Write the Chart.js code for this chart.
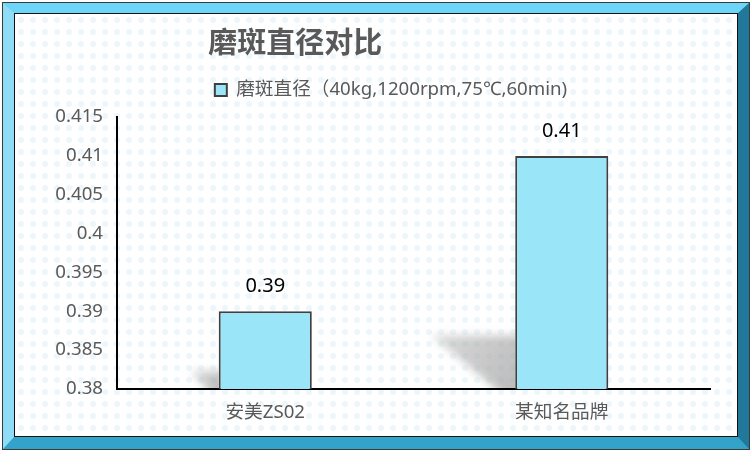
<!DOCTYPE html>
<html>
<head>
<meta charset="utf-8">
<script src="https://cdn.jsdelivr.net/npm/chart.js@4"></script>
<style>
  body { margin: 0; background: #fff; }
  .outer {
    position: absolute; left: 2px; top: 2px;
    width: 748px; height: 448px;
    box-sizing: border-box;
    border: 1px solid #3a3a3a;
  }
  .bevel {
    position: absolute; left: 0; top: 0; right: 0; bottom: 0;
    border-style: solid; border-width: 10px 11px 12px 11px;
    border-color: #6dd5f7 #22789a #33a3c9 #8fdcf7;
  }
  .inner {
    position: absolute; left: 0; top: 0; right: 0; bottom: 0;
    border: 1px solid #111;
    background-color: #fff;
    background-image: radial-gradient(circle, #edf7fb 0, #edf7fb 2.5px, transparent 3.6px);
    background-size: 12px 12px;
  }
  canvas { display: block; }
</style>
</head>
<body>
<div class="outer"><div class="bevel"><div class="inner">
  <canvas id="chart" width="721" height="421"></canvas>
</div></div></div>
<script>
// 数据
const categories = ['安美ZS02', '某知名品牌'];
const values = [0.39, 0.41];
const seriesName = '磨斑直径（40kg,1200rpm,75℃,60min)';
const chartTitle = '磨斑直径对比';
const yMin = 0.38, yMax = 0.415, yStep = 0.005;

const cjk = '"Noto Sans", "Noto Sans CJK SC", sans-serif';
const fs = 18.67;

// 柱子左侧的阴影（柱底在 y 轴最小值处）
const shadowPlugin = {
    id: 'barShadow',
    beforeDatasetsDraw(chart) {
        const ctx = chart.ctx;
        const area = chart.chartArea;
        chart.getDatasetMeta(0).data.forEach(bar => {
            const left = bar.x - bar.width / 2;
            const base = Math.min(bar.base, area.bottom);
            const h = base - bar.y;
            const top = base - 0.23 * h;
            const grad = ctx.createLinearGradient(left - 0.36 * h, top, left, base);
            grad.addColorStop(0, 'rgba(170,170,170,0.45)');
            grad.addColorStop(1, 'rgba(160,160,160,0.7)');
            ctx.save();
            ctx.beginPath();
            ctx.rect(area.left, area.top, left - area.left, base - area.top - 1);
            ctx.clip();
            ctx.filter = 'blur(4px)';
            ctx.fillStyle = grad;
            ctx.beginPath();
            ctx.moveTo(left - 0.36 * h, top);
            ctx.lineTo(left + 10, top);
            ctx.lineTo(left + 10, base + 10);
            ctx.lineTo(left - 0.03 * h, base + 10);
            ctx.closePath();
            ctx.fill();
            ctx.restore();
        });
    }
};

// 图例位置微调
const legendShift = {
    id: 'legendShift',
    afterInit(chart) {
        const lg = chart.legend;
        const fit = lg.fit;
        lg.fit = function () {
            fit.call(this);
            this.height += 7.7;
        };
    },
    afterLayout(chart) {
        chart.legend.left += 24.5;
        chart.legend.right += 24.5;
    }
};

// 标题和数据标签
const textPlugin = {
    id: 'texts',
    afterDraw(chart) {
        const ctx = chart.ctx;
        ctx.save();
        ctx.fillStyle = '#595959';
        ctx.font = 'bold 29px ' + cjk;
        ctx.textAlign = 'left';
        ctx.textBaseline = 'middle';
        ctx.fillText(chartTitle, chart.width * 0.268, 31);

        ctx.fillStyle = '#000';
        ctx.font = '20px ' + cjk;
        ctx.textAlign = 'center';
        chart.getDatasetMeta(0).data.forEach((bar, i) => {
            ctx.fillText(String(values[i]), bar.x, bar.y - 25);
        });
        ctx.restore();
    }
};

new Chart(document.getElementById('chart'), {
    type: 'bar',
    data: {
        labels: categories,
        datasets: [{
            label: seriesName,
            data: values,
            backgroundColor: '#9be5f8',
            borderColor: '#404040',
            borderWidth: 2,
            borderSkipped: 'bottom',
            barPercentage: 0.314,
            categoryPercentage: 1
        }]
    },
    options: {
        responsive: false,
        animation: false,
        layout: {
            padding: { top: 60.7, left: 8, right: 26, bottom: 0 }
        },
        plugins: {
            title: { display: false },
            tooltip: { enabled: false },
            legend: {
                position: 'top',
                labels: {
                    color: '#595959',
                    font: { size: fs, family: cjk },
                    boxWidth: 12,
                    boxHeight: 12,
                    padding: 6
                }
            }
        },
        scales: {
            x: {
                afterFit(scale) { scale.height = 46; },
                grid: { display: false, drawTicks: false },
                border: { color: '#000', width: 2 },
                ticks: {
                    color: '#595959',
                    font: { size: fs, family: cjk },
                    padding: 12.5
                }
            },
            y: {
                min: yMin,
                max: yMax,
                afterFit(scale) { scale.width = 94; },
                grid: { display: false, drawTicks: false },
                border: { color: '#000', width: 2 },
                ticks: {
                    stepSize: yStep,
                    color: '#595959',
                    font: { size: fs, family: cjk },
                    padding: 14,
                    callback: v => String(+v.toFixed(3))
                }
            }
        }
    },
    plugins: [shadowPlugin, legendShift, textPlugin]
});
</script>
</body>
</html>
